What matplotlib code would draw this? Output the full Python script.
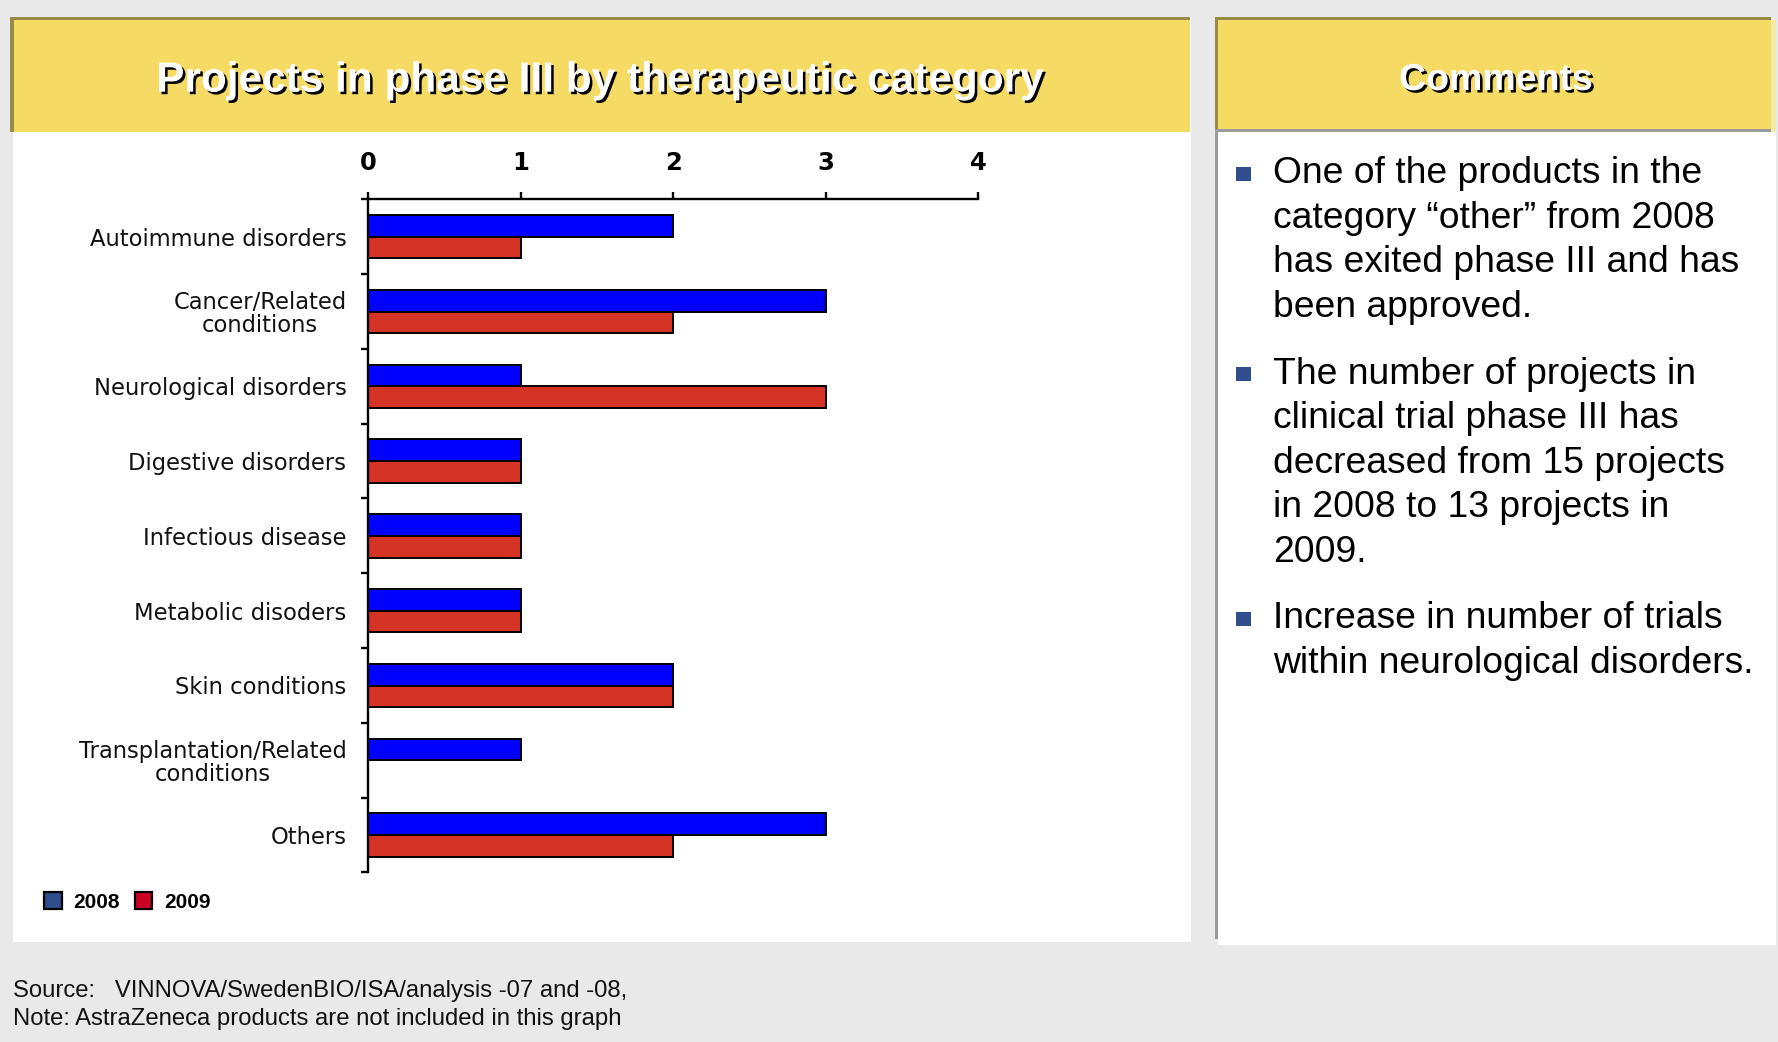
import matplotlib
matplotlib.use("Agg")
import matplotlib.pyplot as plt
from matplotlib.patches import Rectangle, Patch
import matplotlib.patheffects as pe
import numpy as np

# ---------------- data ----------------
categories = [
    "Autoimmune disorders",
    "Cancer/Related\nconditions",
    "Neurological disorders",
    "Digestive disorders",
    "Infectious disease",
    "Metabolic disoders",
    "Skin conditions",
    "Transplantation/Related\nconditions",
    "Others",
]
values_2008 = [2, 3, 1, 1, 1, 1, 2, 1, 3]
values_2009 = [1, 2, 3, 1, 1, 1, 2, 0, 2]
series_labels = ["2008", "2009"]
x_ticks = [0, 1, 2, 3, 4]

title = "Projects in phase III by therapeutic category"
comments_title = "Comments"
comments = [
    ["One of the products in the", "category \u201cother\u201d from 2008",
     "has exited phase III and has", "been approved."],
    ["The number of projects in", "clinical trial phase III has",
     "decreased from 15 projects", "in 2008 to 13 projects in", "2009."],
    ["Increase in number of trials", "within neurological disorders."],
]
source_lines = ["Source:   VINNOVA/SwedenBIO/ISA/analysis -07 and -08,",
                "Note: AstraZeneca products are not included in this graph"]

# ---------------- styling ----------------
W, H = 1778, 1042
BG = "#e9e9e9"
YELLOW = "#f5db63"
OLIVE = "#998a45"
GREY = "#9a9a9a"
BAR_2008 = "#0000ff"
BAR_2009 = "#d63327"
LEG_2008 = "#2e4d8c"
LEG_2009 = "#cc0022"
BULLET = "#2f4d8f"
ARIAL = ["Liberation Sans", "DejaVu Sans"]

fig = plt.figure(figsize=(W / 100, H / 100), dpi=100)
fig.patch.set_facecolor(BG)

bg = fig.add_axes([0, 0, 1, 1])
bg.set_xlim(0, W)
bg.set_ylim(H, 0)
bg.axis("off")
bg.set_zorder(0)


def rect(x0, y0, x1, y1, color):
    bg.add_patch(Rectangle((x0, y0), x1 - x0, y1 - y0, facecolor=color,
                           edgecolor="none", lw=0))


# left panel
rect(12.5, 17, 1191.4, 941.7, "white")
rect(9.5, 17, 1190, 131.5, YELLOW)
rect(9.5, 16.7, 1190, 20, OLIVE)
rect(9.5, 16.7, 13.5, 131.5, OLIVE)

# right panel
rect(1217.7, 131.7, 1775.7, 945, "white")
rect(1214.7, 16.7, 1771, 129, YELLOW)
rect(1771, 19.5, 1775.7, 131.7, "#f7e9a6")
rect(1214.7, 16.7, 1771, 19.5, OLIVE)
rect(1214.7, 16.7, 1217.7, 129, OLIVE)
rect(1214.7, 129, 1771, 131.7, GREY)
rect(1214.7, 129, 1217.7, 939, GREY)

shadow = [pe.SimplePatchShadow(offset=(1.8, -1.8), shadow_rgbFace="black", alpha=1.0),
          pe.Normal()]
bg.text(600.6, 91.7, title, ha="center", va="baseline", fontsize=30.5,
        fontweight="bold", color="white", family=ARIAL, path_effects=shadow)
bg.text(1496, 90, comments_title, ha="center", va="baseline", fontsize=27,
        fontweight="bold", color="white", family=ARIAL, path_effects=shadow)

# comments
line_step = 44.6
bullet_gap = 66.4
y = 183.3
for block in comments:
    bg.add_patch(Rectangle((1236, y - 9.5 - 7.2), 14.5, 14.5, facecolor=BULLET,
                           edgecolor="none"))
    for i, line in enumerate(block):
        bg.text(1273, y, line, ha="left", va="baseline", fontsize=26.8,
                family=ARIAL, color="black")
        if i < len(block) - 1:
            y += line_step
    y += bullet_gap

# source
for i, line in enumerate(source_lines):
    bg.text(13, 996.7 + i * 28.3, line, ha="left", va="baseline", fontsize=17.2,
            family=ARIAL, color="#111111")

# ---------------- chart ----------------
x0_px, unit_px = 368.3, 152.5
top_px, bot_px = 199.3, 872.5
ax = fig.add_axes([x0_px / W, 1 - bot_px / H, 4 * unit_px / W, (bot_px - top_px) / H])
ax.set_zorder(2)
ax.patch.set_alpha(0)

n = len(categories)
centers = np.arange(n) + 0.5
bh = 0.29
ax.barh(centers - bh / 2, values_2008, height=bh, color=BAR_2008,
        edgecolor="black", linewidth=1.4)
ax.barh(centers + bh / 2, values_2009, height=bh, color=BAR_2009,
        edgecolor="black", linewidth=1.4)

ax.set_xlim(0, 4)
ax.set_ylim(n, 0)

for s in ["right", "bottom"]:
    ax.spines[s].set_visible(False)
for s in ["top", "left"]:
    ax.spines[s].set_linewidth(1.7)

ax.xaxis.tick_top()
ax.set_xticks(x_ticks)
ax.set_xticklabels([str(t) for t in x_ticks])
ax.tick_params(axis="x", which="major", direction="out", length=4.8, width=1.7,
               pad=12.5, labelsize=17.5)
for lab in ax.get_xticklabels():
    lab.set_fontweight("heavy")
    lab.set_family("DejaVu Sans")

ax.set_yticks(centers)
ax.set_yticklabels(categories)
ax.set_yticks(np.arange(n + 1), minor=True)
ax.tick_params(axis="y", which="major", length=0, pad=15.7, labelsize=16.3)
ax.tick_params(axis="y", which="minor", direction="out", length=4.7, width=1.7)
for lab in ax.get_yticklabels():
    lab.set_family("DejaVu Sans")
    lab.set_color("#111111")
    lab.set_multialignment("center")
    lab.set_linespacing(1.0)

# legend
handles = [Patch(facecolor=LEG_2008, edgecolor="black", linewidth=1.6),
           Patch(facecolor=LEG_2009, edgecolor="black", linewidth=1.6)]
fig.legend(handles, series_labels, loc="center left",
           bbox_to_anchor=(44.3 / W, 1 - 902 / H), ncol=2, frameon=False,
           borderpad=0, borderaxespad=0, handlelength=0.85, handleheight=0.85,
           handletextpad=0.55, columnspacing=0.71,
           prop={"family": ARIAL, "weight": "bold", "size": 15})

fig.savefig("out.png", dpi=100, facecolor=BG)
